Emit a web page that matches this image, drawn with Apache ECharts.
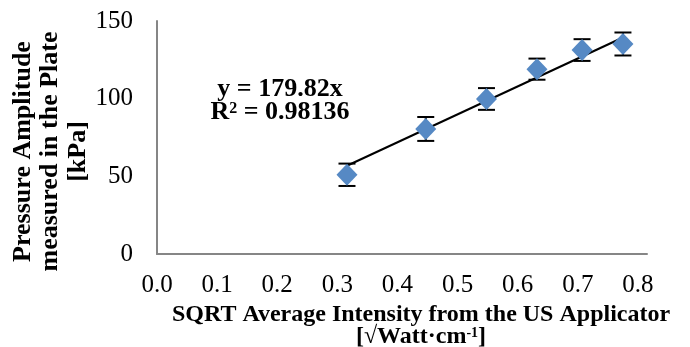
<!DOCTYPE html>
<html>
<head>
<meta charset="UTF-8">
<title>Pressure vs SQRT intensity</title>
<style>
  html, body { margin: 0; padding: 0; background: #fff; }
</style>
</head>
<body>
<div id="main" style="width: 690px;height:347px;"></div>
<script src="https://cdn.jsdelivr.net/npm/echarts@6/dist/echarts.min.js"></script>
<script>
// measured points (x = sqrt of average intensity, y = pressure amplitude in kPa)
var xVals = [0.316, 0.447, 0.548, 0.632, 0.707, 0.775];
var yVals = [51, 80.5, 99.8, 119, 131.3, 135.2];
var yErr = [7.2, 7.7, 7, 6.8, 7, 7.4];

// linear trendline through origin
var slope = 179.82;
var trendX = [0.316, 0.775];
var eqText = ['y = 179.82x', 'R{sup|2} = 0.98136'];

var xTicks = ['0.0', '0.1', '0.2', '0.3', '0.4', '0.5', '0.6', '0.7', '0.8'];

var serif = '"Liberation Serif", "DejaVu Serif", serif';

var points = xVals.map(function (x, i) { return [x, yVals[i]]; });
var bars = xVals.map(function (x, i) { return [x, yVals[i] - yErr[i], yVals[i] + yErr[i]]; });
var trend = trendX.map(function (x) { return [x, slope * x]; });

var myChart = echarts.init(document.getElementById('main'));

myChart.setOption({
    animation: false,
    textStyle: { fontFamily: serif },
    grid: { left: 157, right: 43, top: 21, bottom: 93, containLabel: false, outerBoundsMode: 'none' },
    title: {
        text: eqText[0] + '\n' + eqText[1],
        left: 275,
        top: 73,
        textAlign: 'center',
        textStyle: {
            fontFamily: serif,
            fontWeight: 'bold',
            fontSize: 26,
            lineHeight: 23,
            color: '#000',
            rich: {
                sup: { fontFamily: serif, fontWeight: 'bold', fontSize: 16, verticalAlign: 'top', lineHeight: 23, color: '#000' }
            }
        }
    },
    xAxis: {
        type: 'value',
        min: 0,
        max: 0.815,
        interval: 0.1,
        splitLine: { show: false },
        axisTick: { show: false },
        axisLine: { show: true, lineStyle: { color: '#868686', width: 2 } },
        axisLabel: {
            fontSize: 25,
            color: '#000',
            margin: 19,
            showMaxLabel: false,
            formatter: function (v) { return xTicks[Math.round(v * 10)] || ''; }
        },
        name: 'SQRT Average Intensity from the US Applicator\n{n|[√Watt·cm}{s|-1}{n|]}',
        nameLocation: 'middle',
        nameGap: 50,
        nameMoveOverlap: false,
        nameTextStyle: {
            fontFamily: serif,
            fontWeight: 'bold',
            fontSize: 24,
            lineHeight: 22,
            color: '#000',
            padding: [0, 0, 0, 38],
            rich: {
                n: { fontFamily: serif, fontWeight: 'bold', fontSize: 24, lineHeight: 22, color: '#000' },
                s: { fontFamily: serif, fontWeight: 'bold', fontSize: 14, verticalAlign: 'top', lineHeight: 22, color: '#000' }
            }
        }
    },
    yAxis: {
        type: 'value',
        min: 0,
        max: 150,
        interval: 50,
        splitLine: { show: false },
        axisTick: { show: false },
        axisLine: { show: true, lineStyle: { color: '#868686', width: 2 } },
        axisLabel: { fontSize: 25, color: '#000', margin: 24 },
        name: 'Pressure Amplitude\nmeasured in the Plate\n[kPa]',
        nameLocation: 'middle',
        nameRotate: 90,
        nameGap: 65,
        nameMoveOverlap: false,
        nameTextStyle: {
            fontFamily: serif,
            fontWeight: 'bold',
            fontSize: 26,
            lineHeight: 27.5,
            color: '#000',
            padding: [0, 28, 0, 0]
        }
    },
    series: [
        {
            type: 'line',
            data: trend,
            symbol: 'none',
            lineStyle: { color: '#000', width: 2 },
            z: 3
        },
        {
            type: 'custom',
            data: bars,
            z: 4,
            renderItem: function (params, api) {
                var x = api.value(0);
                var lo = api.coord([x, api.value(1)]);
                var hi = api.coord([x, api.value(2)]);
                var cap = 8.5;
                var st = { stroke: '#000', lineWidth: 2 };
                return {
                    type: 'group',
                    children: [
                        { type: 'line', shape: { x1: lo[0], y1: lo[1], x2: hi[0], y2: hi[1] }, style: st },
                        { type: 'line', shape: { x1: lo[0] - cap, y1: lo[1], x2: lo[0] + cap, y2: lo[1] }, style: st },
                        { type: 'line', shape: { x1: hi[0] - cap, y1: hi[1], x2: hi[0] + cap, y2: hi[1] }, style: st }
                    ]
                };
            }
        },
        {
            type: 'scatter',
            data: points,
            symbol: 'diamond',
            symbolSize: [21, 22],
            itemStyle: { color: '#5689c4', opacity: 1 },
            z: 5
        }
    ]
});
</script>
</body>
</html>
